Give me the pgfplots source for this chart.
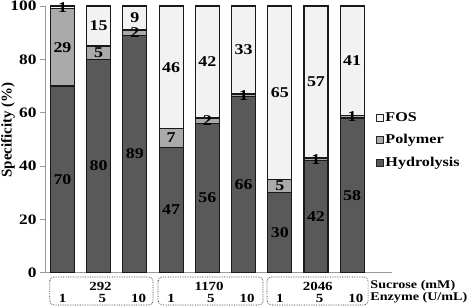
\documentclass[border=0pt]{standalone}
\usepackage{fontspec}
\setmainfont{Liberation Serif}[FakeStretch=1.2]
\newfontfamily\ylabfont{Liberation Serif}
\usepackage{pgfplots}
\usepackage{pgfplotstable}
\pgfplotsset{compat=1.18}
\definecolor{hyd}{HTML}{595959}
\definecolor{pol}{HTML}{AAAAAA}
\definecolor{fos}{HTML}{F2F2F2}
\pgfplotstableread{
x hyd pol fos
0 70 29 1
1 80 5 15
2 89 2 9
3 47 7 46
4 56 2 42
5 66 1 33
6 30 5 65
7 42 1 57
8 58 1 41
}\data
\newcommand\bl{\fontsize{15}{15}\selectfont\bfseries}
\newcommand\sm{\fontsize{12.5}{12.5}\selectfont\bfseries}
\begin{document}
\begin{tikzpicture}[font=\bfseries]
\begin{axis}[
  scale only axis, width=347bp, height=266.7bp,
  xmin=-0.483, xmax=9.10, ymin=0, ymax=100,
  ybar stacked, bar width=24bp,
  axis x line*=bottom, axis y line*=left,
  axis line style={draw=gray!80, line width=0.8pt},
  ytick={0,20,...,100}, xtick=\empty,
  tick style={draw=gray!80, line width=0.8pt}, tick align=outside, major tick length=5bp,
  yticklabel style={font=\fontsize{14.5}{14.5}\selectfont\bfseries},
  /pgf/number format/assume math mode=true,
  ylabel={\ylabfont\fontsize{15}{15}\selectfont\bfseries Specificity (\%)},
  every axis y label/.style={at={(axis description cs:0,0.535)}, xshift=-37bp, rotate=90, anchor=center},
  clip=false,
  reverse legend,
  legend cell align=left,
  legend style={at={(axis description cs:0.953,0.608)}, anchor=north west, draw=none, fill=none,
    font=\fontsize{13.5}{13.5}\selectfont\bfseries, row sep=7.5bp, inner sep=0pt},
  legend image code/.code={\draw[#1, draw=black!85, line width=0.6pt] (0bp,-3.5bp) rectangle (7bp,3.5bp);},
]
\addplot[fill=hyd, draw=black!90, line width=1.1pt] table[x=x, y=hyd] {\data};
\addplot[fill=pol, draw=black!90, line width=1.1pt] table[x=x, y=pol] {\data};
\addplot[fill=fos, draw=black!90, line width=1.1pt] table[x=x, y=fos] {\data};
\legend{Hydrolysis, Polymer, FOS}
% group boxes
\draw[densely dotted, black!80, line width=0.7pt, rounded corners=4bp] (axis cs:-0.35,-1.6) rectangle (axis cs:2.5,-12.1);
\draw[densely dotted, black!80, line width=0.7pt, rounded corners=4bp] (axis cs:2.64,-1.6) rectangle (axis cs:5.54,-12.1);
\draw[densely dotted, black!80, line width=0.7pt, rounded corners=4bp] (axis cs:5.65,-1.6) rectangle (axis cs:8.44,-12.1);
\node[font=\sm] at (axis cs:1.05,-5.0) {292};
\node[font=\sm] at (axis cs:4.05,-5.0) {1170};
\node[font=\sm] at (axis cs:7.05,-5.0) {2046};
\node[font=\sm] at (axis cs:0,-9.5) {1};
\node[font=\sm] at (axis cs:1.1,-9.5) {5};
\node[font=\sm] at (axis cs:2.1,-9.5) {10};
\node[font=\sm] at (axis cs:3,-9.5) {1};
\node[font=\sm] at (axis cs:4.1,-9.5) {5};
\node[font=\sm] at (axis cs:5.1,-9.5) {10};
\node[font=\sm] at (axis cs:6,-9.5) {1};
\node[font=\sm] at (axis cs:7.1,-9.5) {5};
\node[font=\sm] at (axis cs:8.1,-9.5) {10};
\node[font=\fontsize{11.8}{11.8}\selectfont\bfseries, anchor=west, inner sep=0pt] at (axis cs:8.5,-5.0) {Sucrose (mM)};
\node[font=\fontsize{11.8}{11.8}\selectfont\bfseries, anchor=west, inner sep=0pt] at (axis cs:8.5,-9.5) {Enzyme (U/mL)};
\end{axis}
\begin{axis}[
  scale only axis, width=347bp, height=266.7bp,
  xmin=-0.483, xmax=9.10, ymin=0, ymax=100,
  hide axis, clip=false,
]
\node[font=\bl] at (axis cs:0,35) {70};
\node[font=\bl] at (axis cs:0,84.5) {29};
\node[font=\bl] at (axis cs:0,99.5) {1};
\node[font=\bl] at (axis cs:1,40) {80};
\node[font=\bl] at (axis cs:1,82.5) {5};
\node[font=\bl] at (axis cs:1,92.5) {15};
\node[font=\bl] at (axis cs:2,44.5) {89};
\node[font=\bl] at (axis cs:2,90) {2};
\node[font=\bl] at (axis cs:2,95.5) {9};
\node[font=\bl] at (axis cs:3,23.5) {47};
\node[font=\bl] at (axis cs:3,50.5) {7};
\node[font=\bl] at (axis cs:3,77) {46};
\node[font=\bl] at (axis cs:4,28) {56};
\node[font=\bl] at (axis cs:4,57) {2};
\node[font=\bl] at (axis cs:4,79) {42};
\node[font=\bl] at (axis cs:5,33) {66};
\node[font=\bl] at (axis cs:5,66.5) {1};
\node[font=\bl] at (axis cs:5,83.5) {33};
\node[font=\bl] at (axis cs:6,15) {30};
\node[font=\bl] at (axis cs:6,32.5) {5};
\node[font=\bl] at (axis cs:6,67.5) {65};
\node[font=\bl] at (axis cs:7,21) {42};
\node[font=\bl] at (axis cs:7,42.5) {1};
\node[font=\bl] at (axis cs:7,71.5) {57};
\node[font=\bl] at (axis cs:8,29) {58};
\node[font=\bl] at (axis cs:8,58.5) {1};
\node[font=\bl] at (axis cs:8,79.5) {41};
\end{axis}
\pgfresetboundingbox
\path[use as bounding box] (-45bp,-35.3bp) rectangle (427bp,272.7bp);
\end{tikzpicture}
\end{document}
